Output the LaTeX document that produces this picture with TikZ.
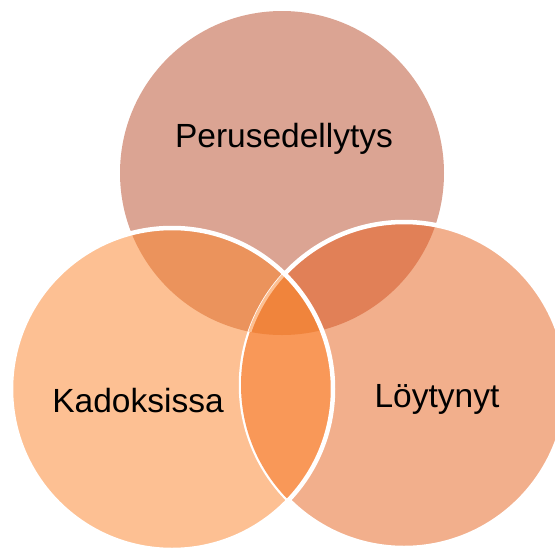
\documentclass[tikz,border=0pt]{standalone}
\usepackage{fontspec}
\setmainfont{Liberation Sans}
\usetikzlibrary{positioning}

\definecolor{topset}{HTML}{DBA493}
\definecolor{leftset}{HTML}{FDC093}
\definecolor{rightset}{HTML}{F2AF8C}
\definecolor{topleft}{HTML}{EB935C}
\definecolor{topright}{HTML}{E18057}
\definecolor{leftright}{HTML}{F99858}
\definecolor{allsets}{HTML}{F0843C}

\begin{document}
\begin{tikzpicture}[x=1pt,y=-1pt,
  set label/.style={font=\fontsize{33.5}{40}\selectfont,anchor=base,inner sep=0pt},
  set rim/.style={draw=white,line width=4.5pt}]

  \useasboundingbox (0,0) rectangle (555,550);

  % centres of the three sets
  \coordinate (ptop) at (282,173);
  \coordinate (pleft) at (172,389);
  \coordinate (pright) at (404,385);

  % plain sets
  \fill[topset] (ptop) circle (162pt);
  \fill[rightset] (pright) circle (163pt);
  \fill[leftset] (pleft) circle (161pt);

  % overlaps
  \begin{scope}
    \clip (ptop) circle (162pt);
    \fill[topleft] (pleft) circle (161pt);
    \fill[topright] (pright) circle (163pt);
    \clip (pleft) circle (161pt);
    \fill[allsets] (pright) circle (163pt);
  \end{scope}

  % lens of left and right, outside the top set
  \begin{scope}[even odd rule]
    \clip (-10,-10) rectangle (565,560) (ptop) circle (162pt);
    \clip (pleft) circle (161pt);
    \fill[leftright] (pright) circle (163pt);
  \end{scope}

  % rims
  \draw[set rim] (pright) circle (163pt);
  \begin{scope}
    \clip (pleft) circle (161pt);
    \fill[leftright] (pright) circle (163pt);
  \end{scope}
  \begin{scope}
    \clip (pleft) circle (161pt);
    \clip (ptop) circle (162pt);
    \fill[allsets] (pright) circle (163pt);
    \draw[leftset,line width=3pt] (pright) circle (163pt);
  \end{scope}
  \draw[set rim] (pleft) circle (161pt);

  % labels
  \node[set label] (perus) at (284,147) {Perusedellytys};
  \node[set label] (kadok) at (138,412) {Kadoksissa};
  \node[set label] (loyty) at (437,407) {Löytynyt};

\end{tikzpicture}
\end{document}
